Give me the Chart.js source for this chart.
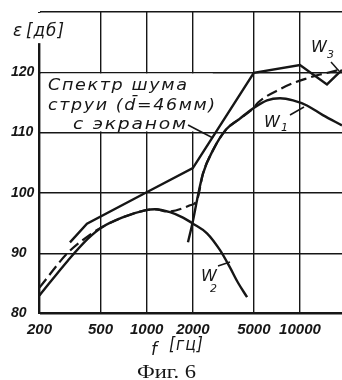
<!DOCTYPE html>
<html>
<head>
<meta charset="utf-8">
<script src="https://cdn.jsdelivr.net/npm/chart.js@4.4.1/dist/chart.umd.min.js"></script>
<style>
  html, body { margin: 0; padding: 0; background: #fff; }
  #spectrum { display: block; }
</style>
</head>
<body>
<canvas id="spectrum" width="342" height="380"></canvas>
<script>
// axes: frequency f [гц] (log) and level ε [дб]
const freqTicks  = [200, 500, 1000, 2000, 5000, 10000];
const levelTicks = [80, 90, 100, 110, 120];

// noise spectrum of the jet with screen (broken line)
const screenFreq = [316, 408, 1000, 2000, 5000, 10000, 15000, 18800];
const screenDb   = [91.8, 94.9, 100.1, 104.1, 119.9, 121.2, 118.0, 120.4];

// W1
const w1Freq = [1860, 2005, 2130, 2330, 2710, 3294, 4000, 4940, 6100, 7410, 9010, 11100, 14100, 18800];
const w1Db   = [91.8, 95.4, 98.8, 103.2, 107.1, 110.5, 112.2, 114.0, 115.35, 115.7, 115.35, 114.5, 112.9, 111.2];

// W2
const w2Freq = [200, 307, 414, 511, 690, 975, 1130, 1420, 1726, 2005, 2475, 3010, 3500, 3945, 4520];
const w2Db   = [83.0, 88.8, 92.4, 94.3, 95.9, 97.1, 97.3, 96.8, 95.9, 94.9, 93.3, 90.5, 87.6, 85.1, 82.7];

// W3 (dashed) — runs along W2, crosses over to W1, then splits off above it
const w3Freq = [200, 307, 440, 511, 690, 975, 1130, 1380, 1900, 2130, 2330, 2710, 3294, 4000, 4940, 5330, 7410, 9010, 11100, 12900, 15600, 18800];
const w3Db   = [84.3, 90.1, 93.3, 94.3, 95.9, 97.1, 97.3, 96.9, 97.9, 98.8, 103.2, 107.1, 110.5, 112.2, 114.0, 115.0, 117.2, 118.2, 119.0, 119.5, 120.0, 120.5];

const INK  = '#161616';
const HAND = '"DejaVu Sans", sans-serif';
const TICK = '"Liberation Sans", Arial, sans-serif';

const pts = (f, d) => f.map((x, i) => ({ x, y: d[i] }));

const curve = (data, extra) => Object.assign({
  data,
  borderColor: INK,
  borderWidth: 2.4,
  pointRadius: 0,
  fill: false,
  cubicInterpolationMode: 'monotone'
}, extra);

// draw a string widened to the given width (lettering is broad and open)
function fitText(ctx, str, x, y, width, spacing) {
  ctx.letterSpacing = (spacing || 0) + 'px';
  const w = ctx.measureText(str).width - (spacing || 0);
  ctx.save();
  ctx.translate(x, y);
  ctx.scale(width / w, 1);
  ctx.fillText(str, 0, 0);
  ctx.restore();
  ctx.letterSpacing = '0px';
}

function seg(ctx, x1, y1, x2, y2) {
  ctx.beginPath();
  ctx.moveTo(x1, y1);
  ctx.lineTo(x2, y2);
  ctx.stroke();
}

function wLabel(ctx, x, y, sub, sx, sy) {
  ctx.font = 'italic 16px ' + HAND;
  ctx.fillText('W', x, y);
  ctx.font = 'italic 11px ' + HAND;
  ctx.fillText(sub, sx, sy);
}

const paperMarks = {
  id: 'paperMarks',
  beforeDatasetsDraw(chart) {
    const { ctx, chartArea: a, scales: { x, y } } = chart;
    ctx.save();
    ctx.fillStyle = '#fff';
    // blank panel for the caption between the 120 and 110 lines
    const top = y.getPixelForValue(120) + 1.2;
    const bot = y.getPixelForValue(110) - 1.2;
    ctx.fillRect(a.left + 1.5, top, x.getPixelForValue(2700) - a.left - 1.5, bot - top);
    // left axis starts below the unit label
    ctx.fillRect(a.left - 3, a.top + 1, 6, y.getPixelForValue(125) - a.top);
    ctx.restore();
  },
  afterDraw(chart) {
    const { ctx } = chart;
    ctx.save();
    ctx.fillStyle = INK;
    ctx.strokeStyle = INK;
    ctx.lineWidth = 1.5;
    ctx.textAlign = 'left';
    ctx.textBaseline = 'alphabetic';

    // axis names
    ctx.font = 'italic 17px ' + HAND;
    ctx.fillText('ε', 13, 36);
    fitText(ctx, '[дб]', 26, 36, 38, 1);
    ctx.fillText('f', 151, 355);
    fitText(ctx, '[гц]', 169, 350, 34, 1);

    // caption of the screen curve
    ctx.font = 'italic 16px ' + HAND;
    fitText(ctx, 'Спектр шума', 48, 90, 139, 1.5);
    fitText(ctx, 'струи (d\u0304=46мм)', 48, 110, 167, 1.5);
    fitText(ctx, 'с экраном', 73, 129, 113, 1.5);
    seg(ctx, 188, 125, 213, 138);

    // curve labels with leaders
    wLabel(ctx, 264, 127, '1', 281, 131);
    seg(ctx, 290, 115, 304, 107);
    wLabel(ctx, 201, 281, '2', 210, 292);
    seg(ctx, 218, 266, 230, 262);
    wLabel(ctx, 311, 52, '3', 327, 58);
    seg(ctx, 331, 62, 339, 71);

    // figure number
    ctx.font = '18px "Liberation Serif", "DejaVu Serif", serif';
    fitText(ctx, 'Фиг. 6', 137, 378, 59, 0);
    ctx.restore();
  }
};

new Chart(document.getElementById('spectrum'), {
  type: 'line',
  data: {
    datasets: [
      curve(pts(screenFreq, screenDb), { cubicInterpolationMode: 'default', tension: 0 }),
      curve(pts(w1Freq, w1Db)),
      curve(pts(w2Freq, w2Db)),
      curve(pts(w3Freq, w3Db), { borderDash: [11, 5], borderWidth: 2.2 })
    ]
  },
  options: {
    responsive: false,
    animation: false,
    layout: { padding: { left: 11, top: 12, right: 0, bottom: 0 }, autoPadding: false },
    plugins: { legend: { display: false }, tooltip: { enabled: false } },
    scales: {
      x: {
        type: 'logarithmic',
        min: 200,
        max: 18800,
        afterBuildTicks: s => { s.ticks = freqTicks.map(v => ({ value: v })); },
        afterFit: s => { s.height = 66.5; },
        border: { display: false },
        grid: {
          color: INK,
          lineWidth: c => (c.tick && c.tick.value === 200 ? 2.4 : 1.4),
          drawTicks: false
        },
        ticks: {
          color: INK,
          autoSkip: false,
          maxRotation: 0,
          padding: 7,
          font: { family: TICK, size: 15, style: 'italic', weight: 'bold' },
          callback: v => String(v)
        }
      },
      y: {
        min: 80,
        max: 130,
        afterBuildTicks: s => { s.ticks = levelTicks.concat(130).map(v => ({ value: v })); },
        afterFit: s => { s.width = 28.5; },
        border: { display: false },
        grid: {
          color: INK,
          lineWidth: c => (c.tick && c.tick.value === 80 ? 2.4 : 1.4),
          drawTicks: false
        },
        ticks: {
          color: INK,
          crossAlign: 'far',
          padding: 0,
          font: { family: TICK, size: 14, style: 'italic', weight: 'bold' },
          callback: v => (levelTicks.includes(v) ? String(v) : '')
        }
      }
    }
  },
  plugins: [paperMarks]
});
</script>
</body>
</html>
